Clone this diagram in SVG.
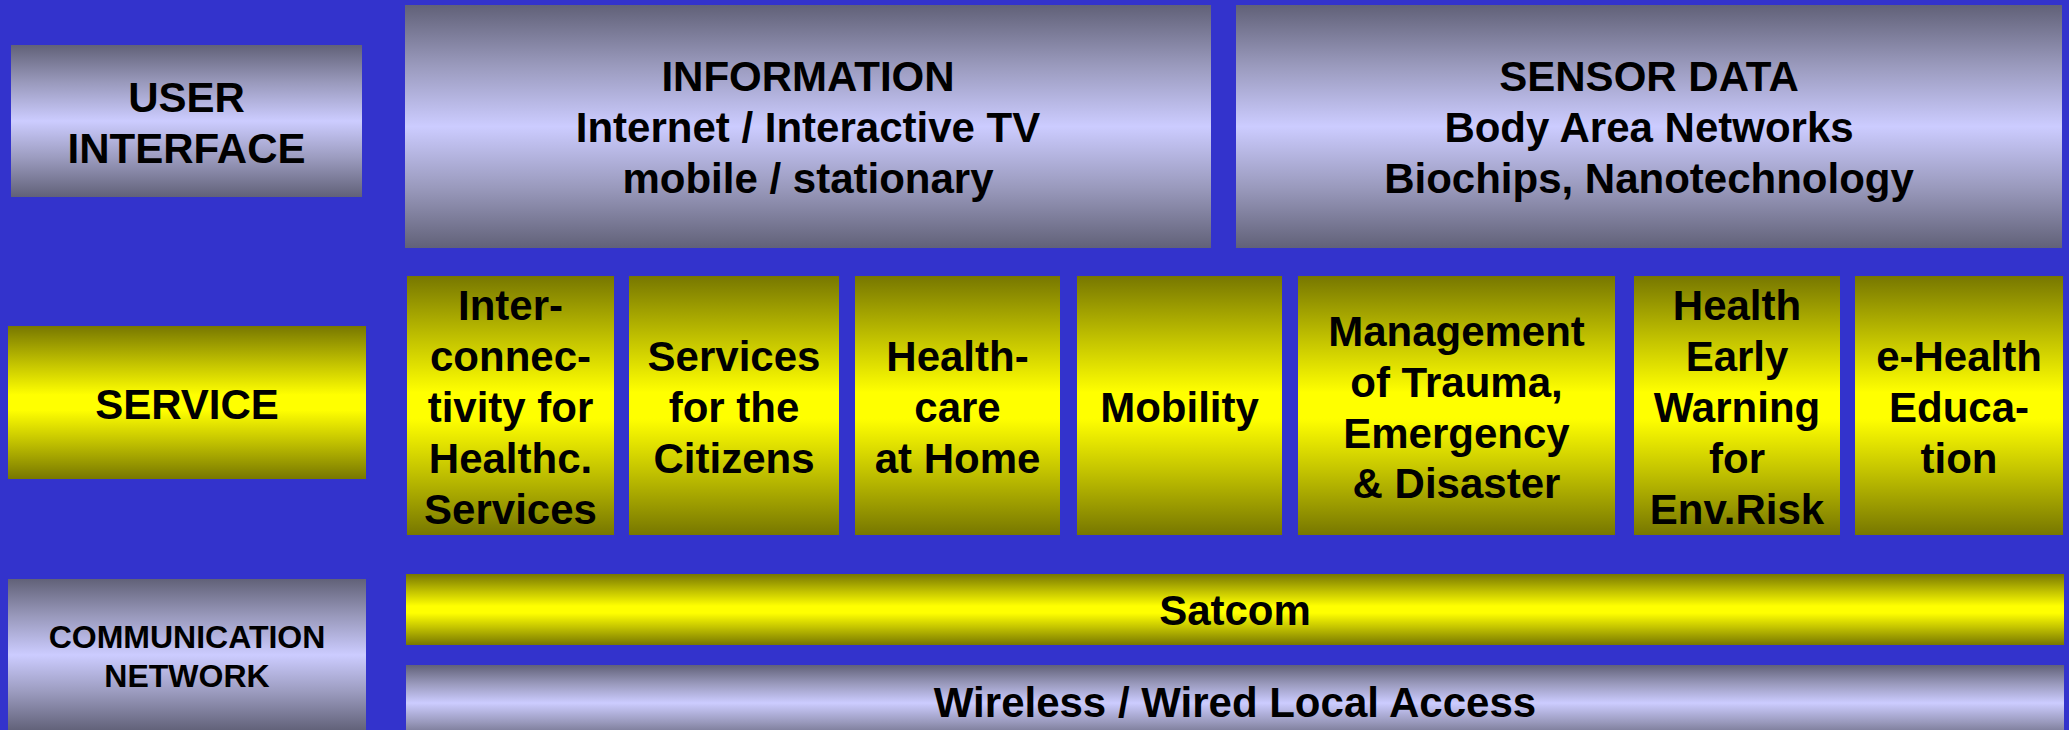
<svg xmlns="http://www.w3.org/2000/svg" width="2069" height="730" viewBox="0 0 2069 730">
<defs>
<linearGradient id="gray" x1="0" y1="0" x2="0" y2="1">
<stop offset="0" stop-color="#616178"/>
<stop offset="0.25" stop-color="#9a9abd"/>
<stop offset="0.5" stop-color="#ccccff"/>
<stop offset="0.75" stop-color="#9a9abd"/>
<stop offset="1" stop-color="#616178"/>
</linearGradient>
<linearGradient id="yellow" x1="0" y1="0" x2="0" y2="1">
<stop offset="0" stop-color="#777700"/>
<stop offset="0.25" stop-color="#c4c400"/>
<stop offset="0.45" stop-color="#ffff00"/>
<stop offset="0.55" stop-color="#ffff00"/>
<stop offset="0.75" stop-color="#c4c400"/>
<stop offset="1" stop-color="#777700"/>
</linearGradient>
</defs>
<style>
.g{fill:url(#gray)}
.y{fill:url(#yellow)}
text{font-family:"Liberation Sans",Arial,sans-serif;font-weight:bold;font-size:42px;fill:#000;text-anchor:middle}
.s{font-size:32px}
</style>
<rect width="2069" height="730" fill="#3333cc"/>
<g id="connectors"/>
<g id="user-interface">
<rect class="g" x="11" y="45" width="351" height="152"/>
<text x="186.5" y="112">USER</text>
<text x="186.5" y="163">INTERFACE</text>
</g>
<g id="information">
<rect class="g" x="405" y="5" width="806" height="243"/>
<text x="808" y="91">INFORMATION</text>
<text x="808" y="142">Internet / Interactive TV</text>
<text x="808" y="193">mobile / stationary</text>
</g>
<g id="sensor-data">
<rect class="g" x="1236" y="5" width="826" height="243"/>
<text x="1649" y="91">SENSOR DATA</text>
<text x="1649" y="142">Body Area Networks</text>
<text x="1649" y="193">Biochips, Nanotechnology</text>
</g>
<g id="service">
<rect class="y" x="8" y="326" width="358" height="153"/>
<text x="187" y="419">SERVICE</text>
</g>
<g id="interconnectivity">
<rect class="y" x="407" y="276" width="207" height="259"/>
<text x="510.5" y="320">Inter-</text>
<text x="510.5" y="371">connec-</text>
<text x="510.5" y="422">tivity for</text>
<text x="510.5" y="473">Healthc.</text>
<text x="510.5" y="524">Services</text>
</g>
<g id="citizens">
<rect class="y" x="629" y="276" width="210" height="259"/>
<text x="734" y="371">Services</text>
<text x="734" y="422">for the</text>
<text x="734" y="473">Citizens</text>
</g>
<g id="healthcare-home">
<rect class="y" x="855" y="276" width="205" height="259"/>
<text x="957.5" y="371">Health-</text>
<text x="957.5" y="422">care</text>
<text x="957.5" y="473">at Home</text>
</g>
<g id="mobility">
<rect class="y" x="1077" y="276" width="205" height="259"/>
<text x="1179.5" y="422">Mobility</text>
</g>
<g id="trauma">
<rect class="y" x="1298" y="276" width="317" height="259"/>
<text x="1456.5" y="345.5">Management</text>
<text x="1456.5" y="396.5">of Trauma,</text>
<text x="1456.5" y="447.5">Emergency</text>
<text x="1456.5" y="498">&amp; Disaster</text>
</g>
<g id="early-warning">
<rect class="y" x="1634" y="276" width="206" height="259"/>
<text x="1737" y="320">Health</text>
<text x="1737" y="371">Early</text>
<text x="1737" y="422">Warning</text>
<text x="1737" y="473">for</text>
<text x="1737" y="524">Env.Risk</text>
</g>
<g id="e-health">
<rect class="y" x="1855" y="276" width="208" height="259"/>
<text x="1959" y="371">e-Health</text>
<text x="1959" y="422">Educa-</text>
<text x="1959" y="473">tion</text>
</g>
<g id="communication-network">
<rect class="g" x="8" y="579" width="358" height="152"/>
<text class="s" x="187" y="648">COMMUNICATION</text>
<text class="s" x="187" y="687">NETWORK</text>
</g>
<g id="satcom">
<rect class="y" x="406" y="574" width="1658" height="71"/>
<text x="1235" y="625">Satcom</text>
</g>
<g id="wireless">
<rect class="g" x="406" y="665" width="1658" height="76"/>
<text x="1235" y="717">Wireless / Wired Local Access</text>
</g>
</svg>
